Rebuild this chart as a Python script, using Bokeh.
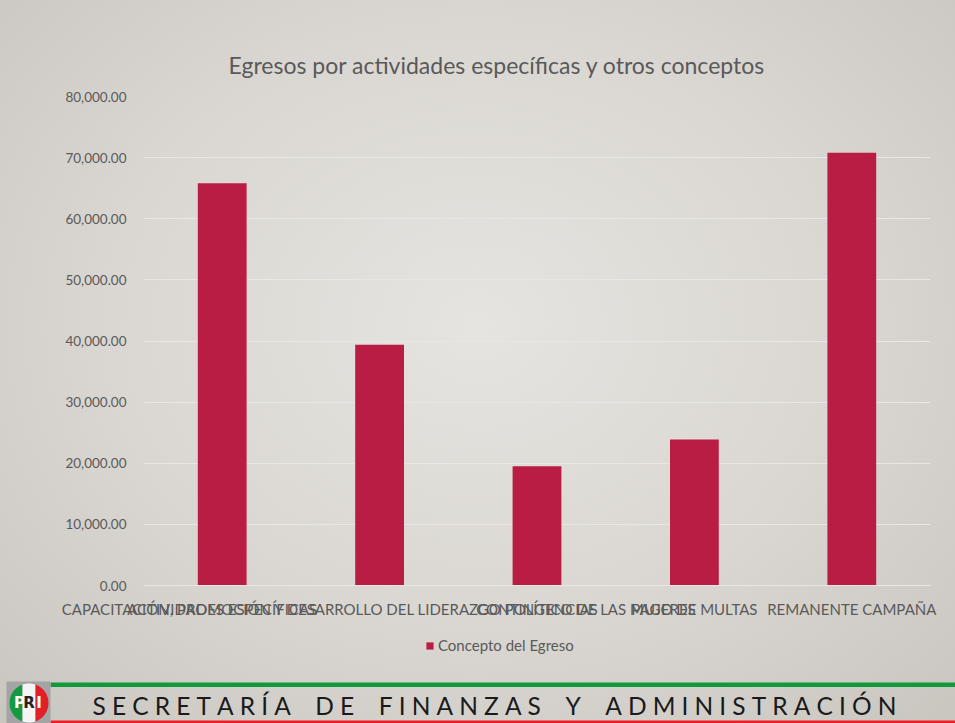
import numpy as np
from bokeh.plotting import figure
from bokeh.models import (Range1d, FactorRange, NumeralTickFormatter, FixedTicker,
                          Legend, LegendItem)
from bokeh.embed import file_html
from bokeh.resources import INLINE
from bokeh.core.properties import value

# ---------------- data ----------------
title_text = "Egresos por actividades específicas y otros conceptos"
categories = [
    "ACTIVIDADES ESPECÍFICAS",
    "CAPACITACIÓN, PROMOCIÓN Y DESARROLLO DEL LIDERAZGO POLÍTICO DE LAS MUJERES",
    "CONTINGENCIAS",
    "PAGO DE MULTAS",
    "REMANENTE CAMPAÑA",
]
egresos = [65800, 39400, 19500, 23900, 70800]
series_name = "Concepto del Egreso"
y_ticks = [0, 10000, 20000, 30000, 40000, 50000, 60000, 70000, 80000]
footer_text = "SECRETARÍA DE FINANZAS Y ADMINISTRACIÓN"

FONT = "Lato"
TXT = "#595959"
BAR = "#BA1D43"
GRID = "#e9e7e3"
BG = {"background": "radial-gradient(ellipse 70% 75% at 50% 45%, #e6e4e0 0%, #dad7d2 55%, #cac7c1 100%)",
      "background-attachment": "fixed"}

# ---------------- main chart ----------------
p = figure(width=955, height=630, x_range=FactorRange(*categories),
           y_range=Range1d(0, 80000), output_backend="svg", toolbar_location=None,
           min_border_left=143, min_border_right=25, min_border_top=96,
           min_border_bottom=45, styles=BG)
p.background_fill_color = None
p.border_fill_color = None
p.outline_line_color = None

r = p.vbar(x=categories, top=egresos, width=0.31, fill_color=BAR, line_color=None)

p.title.text = title_text
p.title.align = "left"
p.title.offset = 85
p.title.standoff = 36
p.title.text_font = FONT
p.title.text_font_style = "normal"
p.title.text_font_size = "23px"
p.title.text_color = TXT

p.yaxis.ticker = FixedTicker(ticks=y_ticks)
p.yaxis.formatter = NumeralTickFormatter(format="0,0.00")
p.yaxis.axis_line_color = None
p.yaxis.major_tick_line_color = None
p.yaxis.minor_tick_line_color = None
p.yaxis.major_label_standoff = 11
p.yaxis.major_label_text_font = FONT
p.yaxis.major_label_text_font_size = "13.5px"
p.yaxis.major_label_text_color = TXT

p.xaxis.axis_line_color = GRID
p.xaxis.major_tick_line_color = None
p.xaxis.major_label_standoff = 8
p.xaxis.major_label_text_font = FONT
p.xaxis.major_label_text_font_size = "15px"
p.xaxis.major_label_text_color = TXT
p.xaxis.major_label_orientation = "horizontal"

p.xgrid.grid_line_color = None
p.ygrid.grid_line_color = GRID
p.ygrid.grid_line_width = 1

# ---------------- legend + footer banner ----------------
b = figure(width=955, height=93, x_range=Range1d(0, 955), y_range=Range1d(723, 630),
           output_backend="svg", toolbar_location=None, min_border=0,
           x_axis_location=None, y_axis_location=None, styles=BG)
b.background_fill_color = None
b.border_fill_color = None
b.outline_line_color = None
b.grid.grid_line_color = None

# legend key: hidden renderer styled like the series bars
swatch = b.vbar(x=[0], top=[0], width=0, fill_color=BAR, line_color=None, visible=False)
legend = Legend(items=[LegendItem(label=series_name, renderers=[swatch])],
                location=(425, 69), orientation="horizontal",
                glyph_width=9, glyph_height=9, label_standoff=4, padding=0, margin=0,
                background_fill_alpha=0, border_line_alpha=0,
                label_text_font=FONT, label_text_font_size="15px",
                label_text_color=TXT)
b.add_layout(legend, "center")

b.quad(left=50, right=955, top=682, bottom=686.5, fill_color="#0f9a3b", line_color=None)
b.quad(left=50, right=955, top=720, bottom=723, fill_color="#ee1d25", line_color=None)

# logo
b.quad(left=6, right=50, top=681, bottom=723, fill_color="#a4a4a4", line_color=None)
cx, cy, rad = 28.5, 702.5, 19.5
edges = [cx - rad, cx - 6.5, cx + 6.5, cx + rad]
cols = ["#159a3f", "#f4f4f4", "#e21f26"]
for i in range(3):
    xs = np.linspace(edges[i], edges[i + 1], 30)
    h = np.sqrt(np.clip(rad ** 2 - (xs - cx) ** 2, 0, None))
    b.patch(np.concatenate([xs, xs[::-1]]), np.concatenate([cy - h, (cy + h)[::-1]]),
            fill_color=cols[i], line_color=None)
b.text(x=[19, 28.5, 38.5], y=[702, 702, 702], text=["P", "R", "I"],
       text_color=["#ffffff", "#222222", "#ffffff"], text_font=value("DejaVu Sans"),
       text_font_style="bold", text_font_size="15px", text_align="center",
       text_baseline="middle")

spaced = "\u2005\u2002\u2005".join("\u2005".join(w) for w in footer_text.split(" "))
b.text(x=[92], y=[705], text=[spaced], text_font=value(FONT), text_font_size="24.5px",
       text_color="#1a1a1a", text_align="left", text_baseline="middle")

open("out.html", "w").write(file_html([p, b], INLINE))
